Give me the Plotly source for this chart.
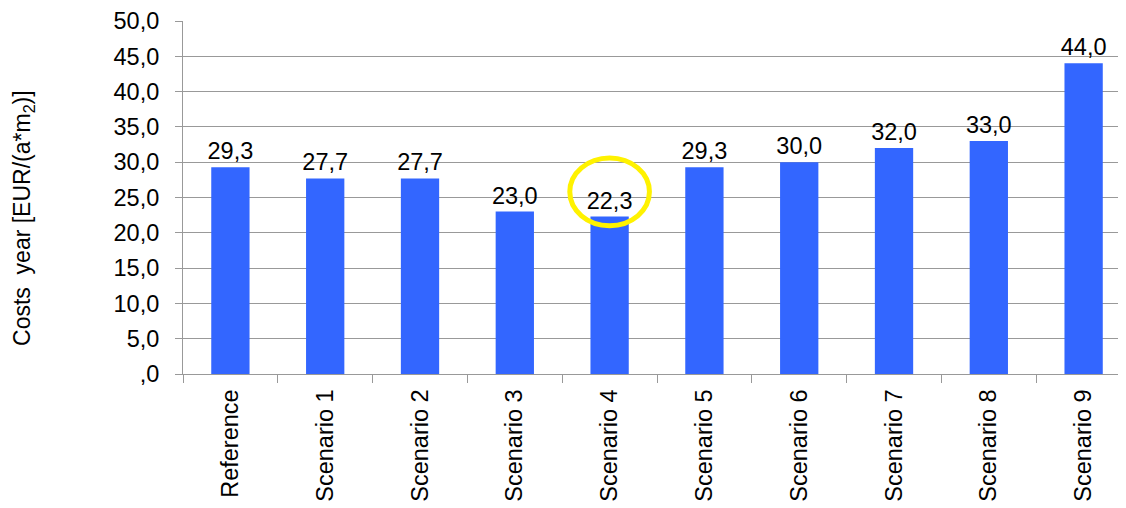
import plotly.graph_objects as go

categories = ["Reference", "Scenario 1", "Scenario 2", "Scenario 3", "Scenario 4",
              "Scenario 5", "Scenario 6", "Scenario 7", "Scenario 8", "Scenario 9"]
values = [29.3, 27.7, 27.7, 23.0, 22.3, 29.3, 30.0, 32.0, 33.0, 44.0]
tick_vals = [0, 5, 10, 15, 20, 25, 30, 35, 40, 45, 50]
tick_text = [",0", "5,0", "10,0", "15,0", "20,0", "25,0", "30,0", "35,0", "40,0", "45,0", "50,0"]
y_title = "Costs  year [EUR/(a*m<sub>2</sub>)]"

font = "Liberation Sans, Arial, sans-serif"
fs = 23.5

fig = go.Figure(go.Bar(
    x=categories, y=values,
    marker=dict(color="#3366FF", line=dict(width=0)),
    text=[f"{v:.1f}".replace(".", ",") for v in values],
    textposition="outside", cliponaxis=False, constraintext="none",
    textfont=dict(family=font, size=fs, color="black"),
))

# yellow highlight circle around Scenario 4 label
fig.add_shape(type="circle", xref="x", yref="y",
              x0=3.58, x1=4.42, y0=21.0, y1=30.6,
              line=dict(color="#FFF200", width=5))

# y-axis title as rotated annotation
fig.add_annotation(text=y_title, textangle=-90, showarrow=False,
                   xref="paper", yref="paper", x=-0.1686, y=0.442,
                   xanchor="center", yanchor="middle",
                   font=dict(family=font, size=23, color="black"))

fig.update_layout(
    width=1118, height=500,
    margin=dict(l=175, r=0, t=13, b=134),
    paper_bgcolor="white", plot_bgcolor="white",
    bargap=0.596, showlegend=False,
    font=dict(family=font, size=fs, color="black"),
)
fig.update_xaxes(
    automargin=False, range=[-0.5, 9.447],
    tickangle=-90, ticks="outside", tickson="boundaries", ticklen=8,
    tickcolor="#999999", showline=True, linecolor="#999999", linewidth=1,
    showgrid=False, tickfont=dict(family=font, size=fs), ticklabelstandoff=5,
)
fig.update_yaxes(
    automargin=False,
    range=[0, 50], tickvals=tick_vals, ticktext=tick_text,
    ticks="outside", ticklen=7, tickcolor="#999999",
    showline=True, linecolor="#999999", linewidth=1,
    showgrid=True, gridcolor="#999999", gridwidth=1, zeroline=False,
    tickfont=dict(family=font, size=fs), ticklabelstandoff=11,
)

fig.write_html("out.html")
